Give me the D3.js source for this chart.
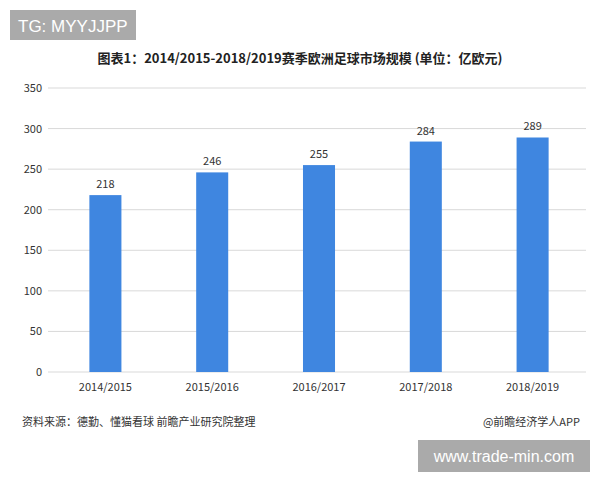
<!DOCTYPE html><html><head><meta charset="utf-8"><script src="https://cdn.jsdelivr.net/npm/d3@7"></script>
<style>body{margin:0;background:#fff}</style></head><body><svg id="c" width="600" height="480"></svg>
<script>
const categories=["2014/2015","2015/2016","2016/2017","2017/2018","2018/2019"];
const values=[218,246,255,284,289];
const yTicks=[0,50,100,150,200,250,300,350];
const svg=d3.select("#c");
const F="'Noto Sans CJK SC','Liberation Sans',sans-serif";
svg.append("rect").attr("x",10).attr("y",10).attr("width",126).attr("height",30).attr("fill","#aaaaaa");
svg.append("text").attr("x",18).attr("y",32).attr("fill","#fff").attr("font-family","'Liberation Sans',sans-serif").attr("font-size",17).text("TG: MYYJJPP");
svg.append("text").attr("x",300).attr("y",63).attr("text-anchor","middle").attr("font-family",F).attr("font-weight","bold").attr("font-size",13).attr("fill","#222").text("图表1：2014/2015-2018/2019赛季欧洲足球市场规模 (单位：亿欧元)");
const x=d3.scaleBand().domain(categories).range([52,586]).paddingInner(0.7).paddingOuter(0.35);
const y=d3.scaleLinear().domain([0,350]).range([372,88]);
const g=svg.append("g");
g.selectAll(".gl").data(yTicks).enter().append("line").attr("x1",48).attr("x2",586).attr("y1",d=>y(d)).attr("y2",d=>y(d)).attr("stroke","#d9d9d9");
g.selectAll(".yl").data(yTicks).enter().append("text").attr("x",42).attr("y",d=>y(d)+4).attr("text-anchor","end").attr("font-family",F).attr("font-size",11).attr("fill","#333").text(d=>d);
g.selectAll(".b").data(values).enter().append("rect").attr("x",(d,i)=>x(categories[i])).attr("width",x.bandwidth()).attr("y",d=>y(d)).attr("height",d=>372-y(d)).attr("fill","#3f86e0");
g.selectAll(".v").data(values).enter().append("text").attr("x",(d,i)=>x(categories[i])+x.bandwidth()/2).attr("y",d=>y(d)-7).attr("text-anchor","middle").attr("font-family",F).attr("font-size",11).attr("fill","#333").text(d=>d);
g.selectAll(".xl").data(categories).enter().append("text").attr("x",d=>x(d)+x.bandwidth()/2).attr("y",391).attr("text-anchor","middle").attr("font-family",F).attr("font-size",11).attr("fill","#333").text(d=>d);
svg.append("text").attr("x",22).attr("y",426).attr("font-family",F).attr("font-size",11).attr("fill","#333").text("资料来源：德勤、懂猫看球 前瞻产业研究院整理");
svg.append("text").attr("x",580).attr("y",426).attr("text-anchor","end").attr("font-family",F).attr("font-size",11).attr("fill","#333").text("@前瞻经济学人APP");
svg.append("rect").attr("x",418).attr("y",440).attr("width",172).attr("height",32).attr("fill","#aaaaaa");
svg.append("text").attr("x",504).attr("y",462).attr("text-anchor","middle").attr("fill","#fff").attr("font-family","'Liberation Sans',sans-serif").attr("font-size",16).text("www.trade-min.com");
</script></body></html>
